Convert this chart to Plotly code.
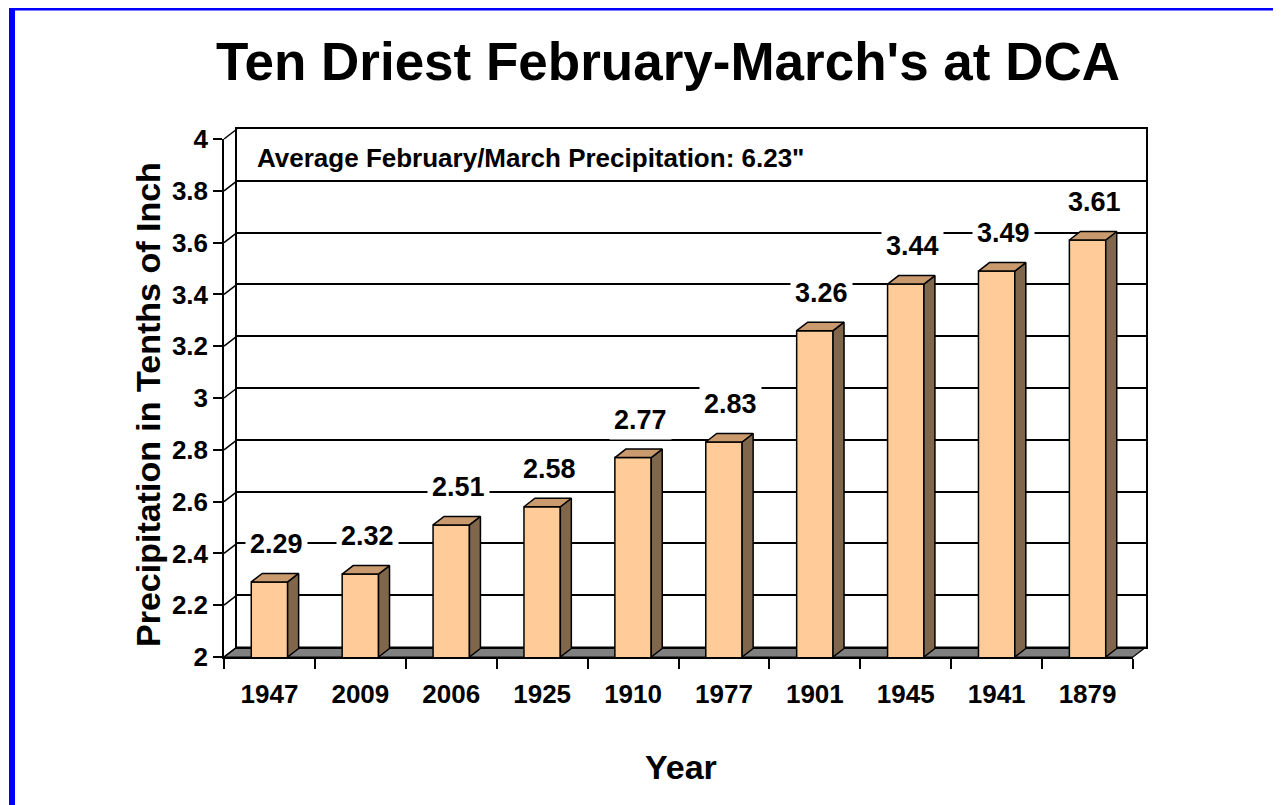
import plotly.graph_objects as go

# ---------------- data ----------------
years = ["1947", "2009", "2006", "1925", "1910", "1977", "1901", "1945", "1941", "1879"]
precip = [2.29, 2.32, 2.51, 2.58, 2.77, 2.83, 3.26, 3.44, 3.49, 3.61]
y_ticks = [2.0, 2.2, 2.4, 2.6, 2.8, 3.0, 3.2, 3.4, 3.6, 3.8, 4.0]
title_text = "Ten Driest February-March's at DCA"
avg_text = 'Average February/March Precipitation: 6.23"'
x_title = "Year"
y_title = "Precipitation in Tenths of Inch"

# ---------------- layout geometry (page pixels) ----------------
W, H = 1281, 805
OFF = 8                                        # page body margin
FX0, FX1, FY0, FY1 = 224, 1133, 139, 657      # front plane plot area
WDX, WDY = 13, 10                              # wall depth offset
BDX, BDY = 11, 8.5                             # bar depth offset
YMIN, YMAX = 2.0, 4.0
NCAT = len(years)
BAR_W = 0.4

px_cat = (FX1 - FX0) / NCAT
px_unit = (FY1 - FY0) / (YMAX - YMIN)
ddx = BDX / px_cat
ddy = BDY / px_unit


def px(x):
    return (x - OFF) / W


def py(y):
    return 1 - (y - OFF) / H


def yfront(v):
    return FY1 - (v - YMIN) * px_unit


FONT = "Liberation Sans, Arial, sans-serif"
FRONT = "#FFCC99"
TOP = "#C99A6E"
SIDE = "#80664A"

fig = go.Figure()

xs = list(range(NCAT))

# invisible anchor trace for the back-wall axes
fig.add_trace(go.Scatter(
    x=xs, y=precip, xaxis="x", yaxis="y", mode="markers",
    marker=dict(opacity=0), hoverinfo="skip", showlegend=False,
))

# bars (front faces)
fig.add_trace(go.Bar(
    x=xs, y=precip, width=BAR_W, xaxis="x2", yaxis="y2",
    marker=dict(color=FRONT, line=dict(color="black", width=1.5)),
    hoverinfo="skip", showlegend=False,
))

# side faces
sx, sy = [], []
for i, v in zip(xs, precip):
    r = i + BAR_W / 2
    sx += [r, r + ddx, r + ddx, r, r, None]
    sy += [YMIN, YMIN + ddy, v + ddy, v, YMIN, None]
fig.add_trace(go.Scatter(
    x=sx, y=sy, xaxis="x2", yaxis="y2", mode="lines", fill="toself",
    fillcolor=SIDE, line=dict(color="black", width=1.5),
    hoverinfo="skip", showlegend=False,
))

# top faces
tx, ty = [], []
for i, v in zip(xs, precip):
    l, r = i - BAR_W / 2, i + BAR_W / 2
    tx += [l, r, r + ddx, l + ddx, l, None]
    ty += [v, v, v + ddy, v + ddy, v, None]
fig.add_trace(go.Scatter(
    x=tx, y=ty, xaxis="x2", yaxis="y2", mode="lines", fill="toself",
    fillcolor=TOP, line=dict(color="black", width=1.5),
    hoverinfo="skip", showlegend=False,
))

shapes = []
# floor
shapes.append(dict(
    type="path", xref="paper", yref="paper", layer="below",
    path=(f"M {px(FX0)},{py(FY1)} L {px(FX1)},{py(FY1)} "
          f"L {px(FX1 + WDX)},{py(FY1 - WDY)} L {px(FX0 + WDX)},{py(FY1 - WDY)} Z"),
    fillcolor="#808080", line=dict(color="black", width=1.2),
))
# side-wall diagonals at every tick
for v in y_ticks:
    yf = yfront(v)
    shapes.append(dict(
        type="line", xref="paper", yref="paper", layer="below",
        x0=px(FX0), y0=py(yf), x1=px(FX0 + WDX), y1=py(yf - WDY),
        line=dict(color="black", width=1.5),
    ))
# blue frame
shapes.append(dict(
    type="rect", xref="paper", yref="paper", layer="above",
    x0=px(12), y0=py(7.5), x1=1.1, y1=-0.1,
    line=dict(color="#0000FF", width=6), fillcolor="rgba(0,0,0,0)",
))

annotations = []
# data labels
for i, v in zip(xs, precip):
    annotations.append(dict(
        x=i, y=v, xref="x2", yref="y2", text=f"{v:.2f}", showarrow=False,
        xshift=7, yshift=38, xanchor="center", yanchor="middle",
        bgcolor="white", borderpad=4,
        font=dict(family=FONT, size=27, color="black", weight="bold"),
    ))
# title
annotations.append(dict(
    x=px(668), y=py(62), xref="paper", yref="paper", text=title_text,
    showarrow=False, xanchor="center", yanchor="middle",
    font=dict(family=FONT, size=53, color="black", weight="bold"),
))
# average note
annotations.append(dict(
    x=px(255), y=py(158), xref="paper", yref="paper", text=avg_text,
    showarrow=False, xanchor="left", yanchor="middle",
    font=dict(family=FONT, size=26, color="black", weight="bold"),
))
# axis titles
annotations.append(dict(
    x=px(681), y=py(767), xref="paper", yref="paper", text=x_title,
    showarrow=False, xanchor="center", yanchor="middle",
    font=dict(family=FONT, size=34, color="black", weight="bold"),
))
annotations.append(dict(
    x=px(148), y=py(405), xref="paper", yref="paper", text=y_title,
    showarrow=False, xanchor="center", yanchor="middle", textangle=-90,
    font=dict(family=FONT, size=34, color="black", weight="bold"),
))

tick_font = dict(family=FONT, size=26, color="black", weight="bold")

fig.update_layout(
    template="none",
    width=W, height=H,
    margin=dict(l=0, r=0, t=0, b=0, pad=0),
    paper_bgcolor="white", plot_bgcolor="rgba(0,0,0,0)",
    showlegend=False,
    shapes=shapes, annotations=annotations,
    # back wall axes
    xaxis=dict(
        domain=[px(FX0 + WDX), px(FX1 + WDX)], anchor="y", automargin=False,
        range=[-0.5, NCAT - 0.5], showgrid=False, zeroline=False,
        showticklabels=False, ticks="", showline=True, linecolor="black",
        linewidth=2, mirror=True, fixedrange=True,
    ),
    yaxis=dict(
        domain=[py(FY1 - WDY), py(FY0 - WDY)], anchor="x", automargin=False,
        range=[YMIN, YMAX], tickmode="array", tickvals=y_ticks,
        showgrid=True, gridcolor="black", gridwidth=1.5, zeroline=False,
        showticklabels=False, ticks="", showline=True, linecolor="black",
        linewidth=1.5, mirror=True, fixedrange=True,
    ),
    # front axes
    xaxis2=dict(
        domain=[px(FX0), px(FX1)], anchor="y2", automargin=False,
        range=[-0.5, NCAT - 0.5], tickmode="array", tickvals=xs,
        ticktext=years, ticks="", tickfont=tick_font, ticklabelstandoff=13,
        showgrid=False, zeroline=False, showline=True, linecolor="black",
        linewidth=1.5, fixedrange=True,
        minor=dict(tickmode="array", tickvals=[k - 0.5 for k in range(NCAT + 1)],
                   ticks="outside", ticklen=10, tickwidth=1.5, tickcolor="black",
                   showgrid=False),
    ),
    yaxis2=dict(
        domain=[py(FY1), py(FY0)], anchor="x2", automargin=False,
        range=[YMIN, YMAX], tickmode="array", tickvals=y_ticks,
        ticktext=[f"{t:g}" for t in y_ticks],
        ticks="outside", ticklen=9, tickwidth=1.5, tickcolor="black",
        tickfont=tick_font, showgrid=False, zeroline=False, showline=True,
        linecolor="black", linewidth=1.5, fixedrange=True,
    ),
)

fig.write_html("out.html", config={"displayModeBar": False})
